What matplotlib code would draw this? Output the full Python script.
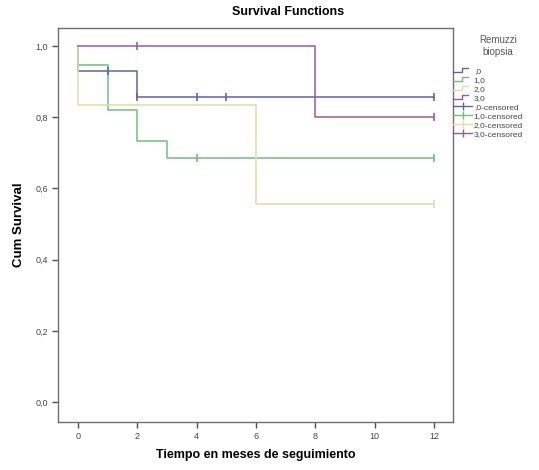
import matplotlib
matplotlib.use("Agg")
import matplotlib.pyplot as plt
from matplotlib.lines import Line2D
from matplotlib.legend_handler import HandlerBase

# ── Data (Kaplan-Meier steps, SPSS style) ────────────────────────────────────
groups = [",0", "1,0", "2,0", "3,0"]
colors = ["#5a66a6", "#6cc07a", "#e2dda6", "#9c5a9e"]

# step points (where='post'): time, cumulative survival
t0 = [0, 0, 2, 12]
s0 = [1.0, 0.929, 0.857, 0.857]
t1 = [0, 0, 1, 2, 3, 12]
s1 = [1.0, 0.947, 0.820, 0.734, 0.686, 0.686]
t2 = [0, 0, 6, 12]
s2 = [1.0, 0.833, 0.556, 0.556]
t3 = [0, 8, 12]
s3 = [1.0, 0.800, 0.800]

# censored observations
c0_t = [1, 2, 4, 5, 12]
c0_s = [0.929, 0.857, 0.857, 0.857, 0.857]
c1_t = [4, 12]
c1_s = [0.686, 0.686]
c2_t = [12]
c2_s = [0.556]
c3_t = [2, 12]
c3_s = [1.0, 0.800]

x_ticks = [0, 2, 4, 6, 8, 10, 12]
y_ticks = [0.0, 0.2, 0.4, 0.6, 0.8, 1.0]
y_tick_labels = ["0,0", "0,2", "0,4", "0,6", "0,8", "1,0"]
# ──────────────────────────────────────────────────────────────────────────────

plt.rcParams["font.family"] = ["Liberation Sans", "DejaVu Sans"]


class StepHandler(HandlerBase):
    """Little SPSS-like step glyph for the legend."""
    def create_artists(self, legend, orig_handle, xdescent, ydescent,
                       width, height, fontsize, trans):
        x0 = -xdescent
        y0 = -ydescent
        xs = [x0, x0 + 0.45 * width, x0 + 0.45 * width, x0 + 0.8 * width]
        ys = [y0 + 0.15 * height, y0 + 0.15 * height, y0 + 0.85 * height, y0 + 0.85 * height]
        ln = Line2D(xs, ys, color=orig_handle.get_color(), linewidth=1.0, transform=trans)
        return [ln]


fig = plt.figure(figsize=(5.39, 4.70), dpi=100)
ax = fig.add_axes([0.1076, 0.1021, 0.7328, 0.8383])

series = [(t0, s0), (t1, s1), (t2, s2), (t3, s3)]
cens = [(c0_t, c0_s), (c1_t, c1_s), (c2_t, c2_s), (c3_t, c3_s)]

step_handles = []
for (t, s), col in zip(series, colors):
    h, = ax.step(t, s, where="post", color=col, linewidth=1.1)
    step_handles.append(h)

cens_handles = []
for (ct, cs), col in zip(cens, colors):
    ax.plot(ct, cs, linestyle="none", marker="|", markersize=6,
            markeredgewidth=1.2, color=col)
    cens_handles.append(Line2D([], [], color=col, linewidth=1.0, marker="|",
                               markersize=6, markeredgewidth=1.0))

ax.set_xlim(-0.68, 12.64)
ax.set_ylim(-0.056, 1.05)
ax.set_xticks(x_ticks)
ax.set_xticklabels([str(v) for v in x_ticks])
ax.set_yticks(y_ticks)
ax.set_yticklabels(y_tick_labels)

for sp in ax.spines.values():
    sp.set_color("#707070")
    sp.set_linewidth(1.0)
ax.tick_params(direction="out", length=4, width=1, color="#505050",
               labelsize=6.5, labelcolor="#444444", pad=3)

ax.set_xlabel("Tiempo en meses de seguimiento", fontsize=9, fontweight="bold",
              labelpad=6)
ax.set_ylabel("Cum Survival", fontsize=9.5, fontweight="bold", labelpad=8)
fig.text(0.534, 0.974, "Survival Functions", ha="center", va="center",
         fontsize=9, fontweight="bold")

# legend title, centred above the entries
fig.text(498 / 539, 1 - 46 / 470, "Remuzzi\nbiopsia", ha="center", va="center",
         fontsize=7, color="#555555", linespacing=1.3)

labels = groups + [g + "-censored" for g in groups]
leg = ax.legend(step_handles + cens_handles, labels,
                handler_map={h: StepHandler() for h in step_handles},
                loc="upper left", bbox_to_anchor=(453 / 539, 1 - 67 / 470),
                bbox_transform=fig.transFigure, frameon=False,
                fontsize=6, handlelength=2.3, handletextpad=0.2,
                labelspacing=0.15, borderaxespad=0.0, borderpad=0.0)
for txt in leg.get_texts():
    txt.set_color("#444444")

fig.savefig("out.png", dpi=100)
